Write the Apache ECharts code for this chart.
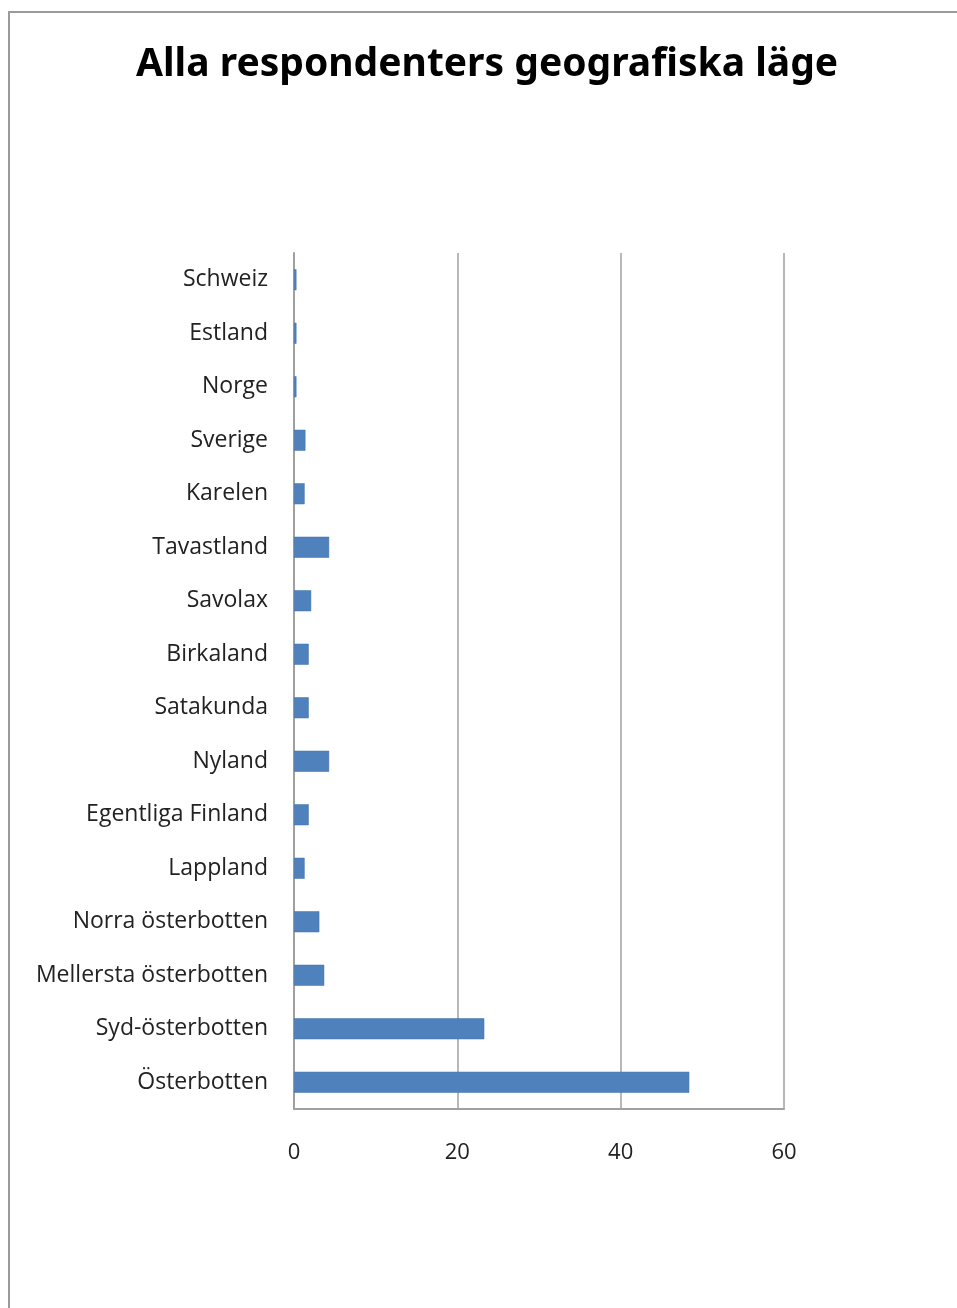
<!DOCTYPE html>
<html>
<head>
<meta charset="utf-8">
<script src="https://cdn.jsdelivr.net/npm/echarts@6/dist/echarts.min.js"></script>
<style>
  html, body { margin: 0; padding: 0; background: #fff; }
  #frame {
    position: absolute; left: 8px; top: 11px; width: 960px; height: 1310px;
    border-top: 2px solid #9a9a9a; border-left: 2px solid #9a9a9a;
  }
  #chart { position: absolute; left: 0; top: 0; width: 957px; height: 1308px; }
</style>
</head>
<body>
<div id="frame"></div>
<div id="chart"></div>
<script>
// regioner, nerifrån och upp (Österbotten längst ner)
const regions = [
  'Österbotten', 'Syd-österbotten', 'Mellersta österbotten', 'Norra österbotten',
  'Lappland', 'Egentliga Finland', 'Nyland', 'Satakunda', 'Birkaland',
  'Savolax', 'Tavastland', 'Karelen', 'Sverige', 'Norge', 'Estland', 'Schweiz'
];
const shares = [48.4, 23.3, 3.7, 3.1, 1.3, 1.8, 4.3, 1.8, 1.8, 2.1, 4.3, 1.3, 1.4, 0.3, 0.3, 0.3];
const xTicks = [0, 20, 40, 60];

const chart = echarts.init(document.getElementById('chart'));
const font = 'Open Sans, DejaVu Sans, sans-serif';

chart.setOption({
  animation: false,
  title: {
    text: 'Alla respondenters geografiska läge',
    left: 131,
    top: 40,
    textStyle: { fontFamily: 'Noto Sans, sans-serif', fontSize: 39, fontWeight: 'bold', color: '#000' }
  },
  grid: { left: 294, right: 173, top: 253, bottom: 199 },
  xAxis: {
    type: 'value',
    min: xTicks[0],
    max: xTicks[xTicks.length - 1],
    interval: 20,
    axisLine: { show: true, lineStyle: { color: '#a0a0a0', width: 2 } },
    axisTick: { show: false },
    splitLine: { show: true, lineStyle: { color: '#a0a0a0', width: 1.5 } },
    axisLabel: { fontFamily: font, fontSize: 22, color: '#222', margin: 33 }
  },
  yAxis: {
    type: 'category',
    data: regions,
    axisLine: { show: true, lineStyle: { color: '#a0a0a0', width: 2 } },
    axisTick: { show: false },
    axisLabel: { fontFamily: font, fontSize: 23, color: '#222', margin: 26 }
  },
  series: [{
    type: 'bar',
    data: shares,
    barWidth: 21,
    itemStyle: { color: '#4f81bd', borderColor: '#3f70ad', borderWidth: 0.5 }
  }]
});
</script>
</body>
</html>
